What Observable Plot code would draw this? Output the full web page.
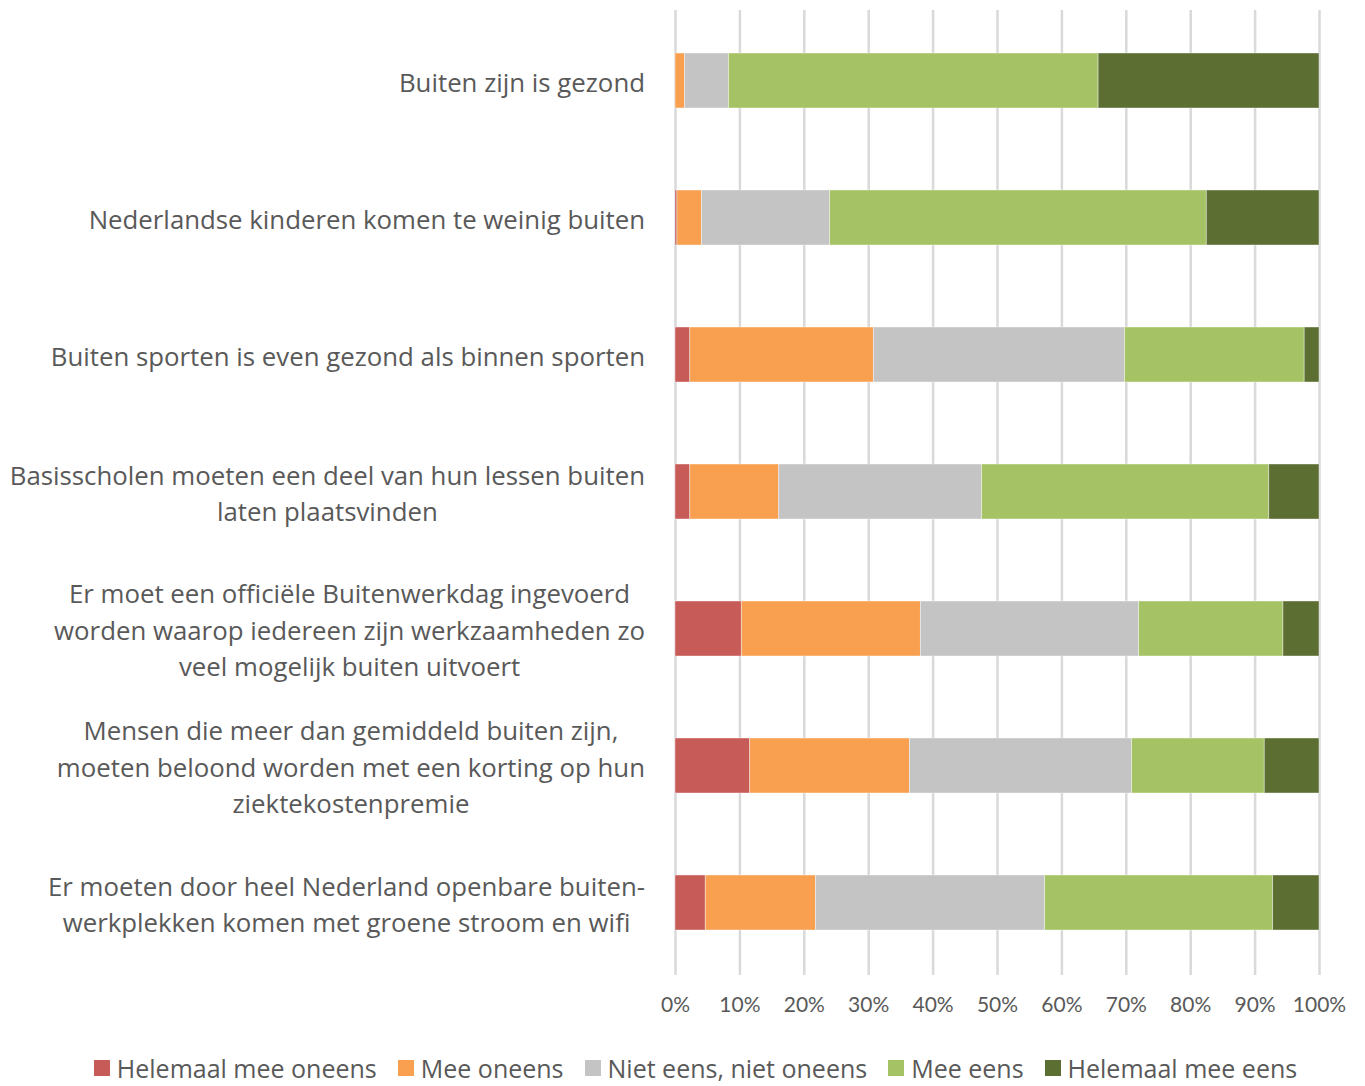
<!DOCTYPE html>
<html>
<head>
<meta charset="utf-8">
<script src="https://cdn.jsdelivr.net/npm/d3@7"></script>
<script src="https://cdn.jsdelivr.net/npm/@observablehq/plot@0.6"></script>
<style>
  body { margin: 0; background: #fff; font-family: "Open Sans", Lato, sans-serif; }
  #chart svg { display: block; }
  #legend { display: flex; justify-content: center; gap: 21px; margin-top: 5px; padding-left: 26px;
            font-size: 25px; color: #595959; line-height: 34px; height: 34px; width: 1365px; box-sizing: border-box; }
  #legend .item { display: flex; align-items: center; gap: 7px; white-space: nowrap; }
  #legend .sw { width: 16px; height: 16px; display: inline-block; }
</style>
</head>
<body>
<div id="chart"></div>
<div id="legend"></div>
<script>
const categories = [
  "Buiten zijn is gezond",
  "Nederlandse kinderen komen te weinig buiten",
  "Buiten sporten is even gezond als binnen sporten",
  "Basisscholen moeten een deel van hun lessen buiten\nlaten plaatsvinden",
  "Er moet een officiële Buitenwerkdag ingevoerd\nworden waarop iedereen zijn werkzaamheden zo\nveel mogelijk buiten uitvoert",
  "Mensen die meer dan gemiddeld buiten zijn,\nmoeten beloond worden met een korting op hun\nziektekostenpremie",
  "Er moeten door heel Nederland openbare buiten-\nwerkplekken komen met groene stroom en wifi"
];
const seriesNames = ["Helemaal mee oneens", "Mee oneens", "Niet eens, niet oneens", "Mee eens", "Helemaal mee eens"];
const seriesColors = ["#c75b57", "#f8a050", "#c4c4c4", "#a5c264", "#5c6e31"];

const helemaalMeeOneens = [0.0, 0.3, 2.3, 2.3, 10.3, 11.6, 4.7];
const meeOneens         = [1.5, 3.8, 28.5, 13.8, 27.8, 24.8, 17.1];
const nietEensNietOneens= [6.8, 19.9, 39.0, 31.5, 33.9, 34.5, 35.6];
const meeEens           = [57.4, 58.5, 27.9, 44.6, 22.4, 20.6, 35.4];
const helemaalMeeEens   = [34.3, 17.5, 2.3, 7.8, 5.6, 8.5, 7.2];
const xTicks = [0, 10, 20, 30, 40, 50, 60, 70, 80, 90, 100];

const seriesValues = [helemaalMeeOneens, meeOneens, nietEensNietOneens, meeEens, helemaalMeeEens];
const data = [];
categories.forEach((c, i) => {
  seriesNames.forEach((s, j) => data.push({cat: c, series: s, value: seriesValues[j][i]}));
});

const plot = Plot.plot({
  width: 1365,
  height: 1046,
  marginLeft: 675,
  marginRight: 46,
  marginTop: 11,
  marginBottom: 75,
  style: {fontFamily: "'Open Sans', Lato, sans-serif", color: "#595959", background: "#fff"},
  x: {domain: [0, 100], ticks: xTicks, tickFormat: d => d + "%"},
  y: {domain: categories, paddingInner: 0.6, paddingOuter: 0.3, axis: null},
  color: {domain: seriesNames, range: seriesColors},
  marks: [
    Plot.ruleX(xTicks, {stroke: "#d9d9d9", strokeWidth: 2.5, insetTop: -1, insetBottom: -4}),
    Plot.barX(data, {x: "value", y: "cat", fill: "series", order: seriesNames,
                     stroke: "#ffffff", strokeWidth: 0.8, strokeOpacity: 0.5}),
    Plot.axisX({ticks: xTicks, tickFormat: d => d + "%", tickSize: 0, tickPadding: 26, fontSize: 21,
                fontFamily: "Lato, 'Open Sans', sans-serif", fill: "#595959", label: null}),
    Plot.text(categories, {y: d => d, text: d => d, frameAnchor: "left", dx: -300, dy: -1,
                           textAnchor: "middle", lineHeight: 1.4, fontSize: 25.8, fill: "#595959"})
  ]
});
document.getElementById("chart").appendChild(plot);

// right-align each label block while keeping its lines centered
const svgRect = plot.getBoundingClientRect();
const targetRight = 645;
plot.querySelectorAll('g[aria-label="text"] text').forEach(t => {
  const r = t.getBoundingClientRect();
  const shift = targetRight - (r.right - svgRect.left);
  const tr = t.getAttribute("transform") || "";
  t.setAttribute("transform", `translate(${shift},0) ${tr}`);
});

const legend = document.getElementById("legend");
seriesNames.forEach((s, i) => {
  const it = document.createElement("span");
  it.className = "item";
  it.innerHTML = `<span class="sw" style="background:${seriesColors[i]}"></span><span>${s}</span>`;
  legend.appendChild(it);
});
</script>
</body>
</html>
